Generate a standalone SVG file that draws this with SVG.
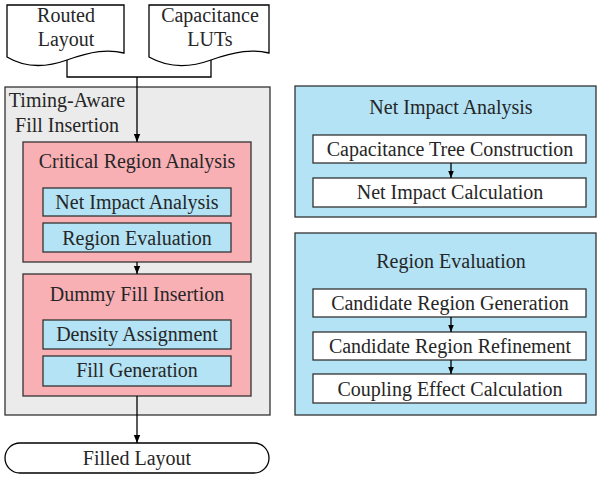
<svg xmlns="http://www.w3.org/2000/svg" width="598" height="477" viewBox="0 0 598 477">
  <defs>
    <marker id="arrow" viewBox="0 0 8 8" refX="8" refY="4" markerWidth="8" markerHeight="8" markerUnits="userSpaceOnUse" orient="auto">
      <path d="M0,0.8 L8,4 L0,7.2 Z" fill="#000"/>
    </marker>
    <marker id="arrowSmall" viewBox="0 0 8 8" refX="8" refY="4" markerWidth="7" markerHeight="7" markerUnits="userSpaceOnUse" orient="auto">
      <path d="M0,0.8 L8,4 L0,7.2 Z" fill="#000"/>
    </marker>
  </defs>
  <style>
    text { font-family: "Liberation Serif", "Times New Roman", serif; font-size: 20px; fill: #262626; text-anchor: middle; }
    .doc { fill: #fff; stroke: #000; stroke-width: 1.3; }
    .panel { fill: #ebebeb; stroke: #333; stroke-width: 1.3; }
    .pink { fill: #f8b0b5; stroke: #333; stroke-width: 1.3; }
    .blue { fill: #b3e3f5; stroke: #333; stroke-width: 1.3; }
    .white { fill: #fff; stroke: #333; stroke-width: 1.3; }
    .edge { fill: none; stroke: #000; stroke-width: 1.3; }
  </style>

  <!-- input documents -->
  <g id="routed-layout">
    <path class="doc" d="M7,5 H124 V53 C108,49 92,51 67,60 C42,69 22,66 7,57 Z"/>
    <text x="66" y="22">Routed</text>
    <text x="66" y="46">Layout</text>
  </g>
  <g id="capacitance-luts">
    <path class="doc" d="M149,5 H269 V53 C253,49 236,51 211,60 C186,69 165,66 149,57 Z"/>
    <text x="210" y="22">Capacitance</text>
    <text x="210" y="46">LUTs</text>
  </g>

  <!-- main flow -->
  <g id="timing-aware-fill-insertion">
    <rect class="panel" x="5" y="87" width="265" height="328"/>
    <text x="67" y="107">Timing-Aware</text>
    <text x="67" y="132">Fill Insertion</text>
  </g>
  <g id="critical-region-analysis">
    <rect class="pink" x="23" y="142" width="228" height="120"/>
    <text x="137" y="168">Critical Region Analysis</text>
  </g>
  <g id="net-impact-analysis-item">
    <rect class="blue" x="43" y="188" width="188" height="28"/>
    <text x="137" y="209">Net Impact Analysis</text>
  </g>
  <g id="region-evaluation-item">
    <rect class="blue" x="43" y="223" width="188" height="29"/>
    <text x="137" y="245">Region Evaluation</text>
  </g>
  <g id="dummy-fill-insertion">
    <rect class="pink" x="23" y="274" width="228" height="122"/>
    <text x="137" y="301">Dummy Fill Insertion</text>
  </g>
  <g id="density-assignment">
    <rect class="blue" x="43" y="320" width="188" height="29"/>
    <text x="137" y="341">Density Assignment</text>
  </g>
  <g id="fill-generation">
    <rect class="blue" x="43" y="356" width="188" height="30"/>
    <text x="137" y="377">Fill Generation</text>
  </g>
  <g id="filled-layout">
    <rect class="doc" x="5" y="443" width="264" height="30" rx="15" ry="15"/>
    <text x="137" y="465">Filled Layout</text>
  </g>

  <!-- net impact analysis detail -->
  <g id="net-impact-analysis">
    <rect class="blue" x="295" y="86" width="301" height="131"/>
    <text x="451" y="114">Net Impact Analysis</text>
  </g>
  <g id="capacitance-tree-construction">
    <rect class="white" x="313" y="135" width="273" height="28"/>
    <text x="450" y="156">Capacitance Tree Construction</text>
  </g>
  <g id="net-impact-calculation">
    <rect class="white" x="313" y="178" width="273" height="29"/>
    <text x="450" y="199">Net Impact Calculation</text>
  </g>

  <!-- region evaluation detail -->
  <g id="region-evaluation">
    <rect class="blue" x="295" y="233" width="301" height="182"/>
    <text x="451" y="268">Region Evaluation</text>
  </g>
  <g id="candidate-region-generation">
    <rect class="white" x="313" y="289" width="273" height="28"/>
    <text x="450" y="310">Candidate Region Generation</text>
  </g>
  <g id="candidate-region-refinement">
    <rect class="white" x="313" y="332" width="273" height="28"/>
    <text x="450" y="353">Candidate Region Refinement</text>
  </g>
  <g id="coupling-effect-calculation">
    <rect class="white" x="313" y="374" width="273" height="29"/>
    <text x="450" y="396">Coupling Effect Calculation</text>
  </g>

  <!-- connectors -->
  <g id="connectors">
    <path class="edge" d="M67,60 V77 H211 V60"/>
    <path class="edge" d="M137,77 V142" marker-end="url(#arrow)"/>
    <path class="edge" d="M137,262 V274" marker-end="url(#arrow)"/>
    <path class="edge" d="M137,396 V443" marker-end="url(#arrow)"/>
    <path class="edge" d="M451,163 V178" marker-end="url(#arrowSmall)"/>
    <path class="edge" d="M451,317 V332" marker-end="url(#arrowSmall)"/>
    <path class="edge" d="M451,360 V374" marker-end="url(#arrowSmall)"/>
  </g>
</svg>
